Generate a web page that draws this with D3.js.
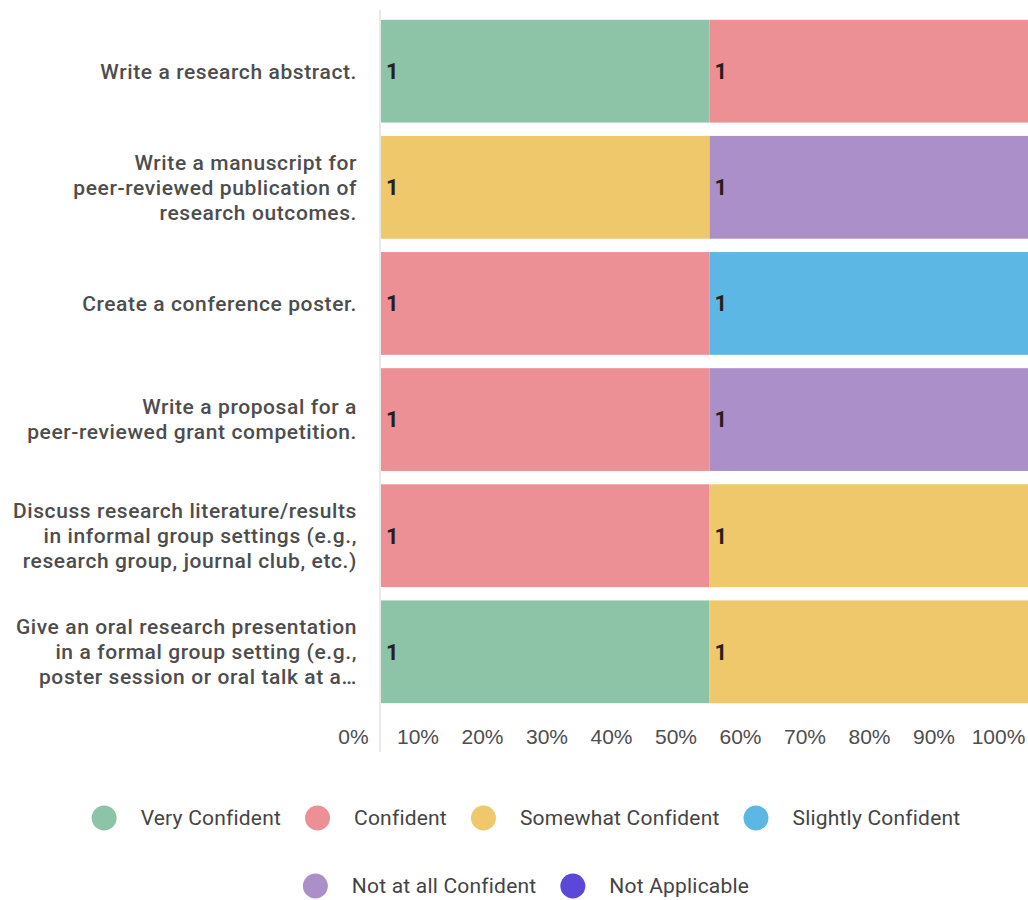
<!DOCTYPE html>
<meta charset="utf-8">
<html>
<head>
<script src="https://cdn.jsdelivr.net/npm/d3@7"></script>
<style>
  body { margin: 0; background: #fff; }
  svg { font-family: Roboto, "Open Sans", sans-serif; }
  .cat { font-size: 21px; font-weight: 500; fill: #4d4d4d; letter-spacing: 0.6px; }
  .val { font-size: 22px; font-weight: bold; fill: #2a1d1d; }
  .tick text { font-size: 21px; font-weight: 500; fill: #4d4d4d; }
  .legend text { font-size: 21px; fill: #444; letter-spacing: 0.2px; }
</style>
</head>
<body>
<svg id="chart"></svg>
<script>
// categories (one label line per entry)
var categories = [
  ["Write a research abstract."],
  ["Write a manuscript for", "peer-reviewed publication of", "research outcomes."],
  ["Create a conference poster."],
  ["Write a proposal for a", "peer-reviewed grant competition."],
  ["Discuss research literature/results", "in informal group settings (e.g.,", "research group, journal club, etc.)"],
  ["Give an oral research presentation", "in a formal group setting (e.g.,", "poster session or oral talk at a\u2026"]
];
var responses = ["Very Confident", "Confident", "Somewhat Confident", "Slightly Confident", "Not at all Confident", "Not Applicable"];
var colors = ["#8dc3a7", "#ec9095", "#eec86b", "#5db7e4", "#ab8fc8", "#5c48d8"];

// counts per response, one value per category
var veryConfident     = [1, 0, 0, 0, 0, 1];
var confident         = [1, 0, 1, 1, 1, 0];
var somewhatConfident = [0, 1, 0, 0, 1, 1];
var slightlyConfident = [0, 0, 1, 0, 0, 0];
var notAtAll          = [0, 1, 0, 1, 0, 0];
var notApplicable     = [0, 0, 0, 0, 0, 0];

var tickLabels = ["0%", "10%", "20%", "30%", "40%", "50%", "60%", "70%", "80%", "90%", "100%"];

var series = [veryConfident, confident, somewhatConfident, slightlyConfident, notAtAll, notApplicable];

var width = 1028, height = 900;
var svg = d3.select("#chart").attr("width", width).attr("height", height);

// build rows for stacking
var rows = categories.map(function(c, i) {
  var r = { idx: i };
  responses.forEach(function(k, j) { r[k] = series[j][i]; });
  return r;
});

var stack = d3.stack().keys(responses).offset(d3.stackOffsetExpand);
var stacked = stack(rows);

var x = d3.scaleLinear().domain([0, 1]).range([381, 1038]);
var y = d3.scaleBand().domain(d3.range(categories.length)).range([14, 709]).paddingInner(0.115).paddingOuter(0.05);
var color = d3.scaleOrdinal().domain(responses).range(colors);

// bars
var layer = svg.selectAll(".layer")
  .data(stacked)
  .enter().append("g")
  .attr("class", "layer")
  .attr("fill", function(d) { return color(d.key); });

layer.selectAll("rect")
  .data(function(d) { return d.filter(function(p) { return p[1] - p[0] > 0; }); })
  .enter().append("rect")
  .attr("x", function(d) { return x(d[0]); })
  .attr("y", function(d) { return y(d.data.idx); })
  .attr("width", function(d) { return x(d[1]) - x(d[0]); })
  .attr("height", y.bandwidth());

// value labels
stacked.forEach(function(s, j) {
  svg.selectAll(".val-" + j)
    .data(s.filter(function(p) { return p[1] - p[0] > 0; }))
    .enter().append("text")
    .attr("class", "val")
    .attr("x", function(d) { return x(d[0]) + 5; })
    .attr("y", function(d) { return y(d.data.idx) + y.bandwidth() / 2; })
    .attr("dy", "0.36em")
    .text(function(d) { return series[j][d.data.idx]; });
});

// axis line
svg.append("line")
  .attr("x1", 380).attr("x2", 380)
  .attr("y1", 10).attr("y2", 752)
  .attr("stroke", "#e2e2e2").attr("stroke-width", 1.5);

// category labels
var catG = svg.selectAll(".cat")
  .data(categories)
  .enter().append("text")
  .attr("class", "cat")
  .attr("text-anchor", "end")
  .attr("transform", function(d, i) { return "translate(357," + (y(i) + y.bandwidth() / 2) + ")"; });

catG.selectAll("tspan")
  .data(function(d) { return d.map(function(l, k) { return { l: l, k: k, n: d.length }; }); })
  .enter().append("tspan")
  .attr("x", 0)
  .attr("y", function(d) { return (d.k - (d.n - 1) / 2) * 25; })
  .attr("dy", "0.35em")
  .text(function(d) { return d.l; });

// x axis tick labels (shown shifted left of the bar scale, as in the source)
var xl = d3.scaleLinear().domain([0, 10]).range([353, 998]);
var axis = svg.append("g")
  .attr("transform", "translate(0,737)")
  .call(d3.axisBottom(xl).tickValues(d3.range(11)).tickSize(0).tickPadding(0)
    .tickFormat(function(d) { return tickLabels[d]; }));
axis.select(".domain").remove();
axis.selectAll("text").attr("dy", "0.35em").attr("y", 0);

// legend
var legendRows = [responses.slice(0, 4), responses.slice(4)];
var legendY = [818, 886];
var r = 12.5, gapIn = 24, gapOut = 24, legendCx = 526;

legendRows.forEach(function(items, ri) {
  var g = svg.append("g").attr("class", "legend");
  var item = g.selectAll("g").data(items).enter().append("g");
  item.append("circle").attr("r", r).attr("fill", function(d) { return color(d); });
  item.append("text").attr("x", r + gapIn).attr("dy", "0.35em").text(function(d) { return d; });
  var widths = [];
  item.each(function() { widths.push(d3.select(this).select("text").node().getComputedTextLength() + 2 * r + gapIn); });
  var total = d3.sum(widths) + gapOut * (widths.length - 1);
  var cx = legendCx - total / 2;
  item.attr("transform", function(d, i) {
    var pos = cx + r;
    cx += widths[i] + gapOut;
    return "translate(" + pos + "," + legendY[ri] + ")";
  });
});
</script>
</body>
</html>
